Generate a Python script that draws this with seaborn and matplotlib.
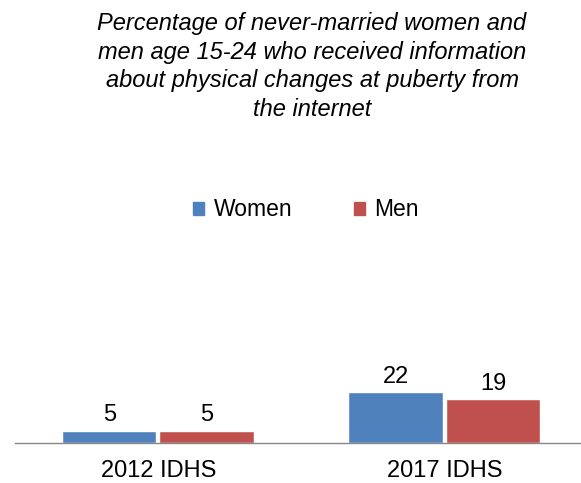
import matplotlib
matplotlib.use("Agg")
import matplotlib.pyplot as plt
import seaborn as sns
import pandas as pd

# data
surveys = ["2012 IDHS", "2017 IDHS"]
women = [5, 22]
men = [5, 19]
groups = ["Women", "Men"]
colors = ["#4F81BD", "#C0504D"]

df = pd.DataFrame({
    "survey": surveys * 2,
    "group": [groups[0]] * len(surveys) + [groups[1]] * len(surveys),
    "value": women + men,
})

sns.set_style("white")
plt.rcParams["font.family"] = ["Liberation Sans", "DejaVu Sans"]
plt.rcParams["text.color"] = "black"
plt.rcParams["xtick.color"] = "black"

W, H = 581, 483
fig = plt.figure(figsize=(W / 100, H / 100), dpi=100)
# axes placed in pixel terms: baseline at y=443, runs off the right edge
left, right, base, top = 15, 588, 443, 217
ax = fig.add_axes([left / W, (H - base) / H, (right - left) / W, (base - top) / H])

sns.barplot(data=df, x="survey", y="value", hue="group", palette=colors,
            width=0.68, gap=0.04, ax=ax, legend=False, saturation=1,
            edgecolor="white", linewidth=0.3)

for cont in ax.containers:
    ax.bar_label(cont, fmt="%d", padding=4, fontsize=17, color="black")

ax.set_ylim(0, 100)
ax.set_xlim(-0.5, 1.5)
ax.set_xlabel("")
ax.set_ylabel("")
ax.set_yticks([])
ax.tick_params(axis="x", length=0, pad=12, labelsize=17, labelcolor="black")
for s in ["top", "left", "right"]:
    ax.spines[s].set_visible(False)
ax.spines["bottom"].set_color("#868686")
ax.spines["bottom"].set_linewidth(1.0)
ax.patch.set_alpha(0)

handles = [plt.Rectangle((0, 0), 1, 1, color=c) for c in colors]
fig.legend(handles, groups, loc="center", bbox_to_anchor=(306 / W, 1 - 210 / H),
           ncol=2, frameon=False, fontsize=16.5, handlelength=0.5, handleheight=0.5,
           handletextpad=0.4, columnspacing=2.7)

fig.text(312 / W, 1 - 12 / H,
         "Percentage of never-married women and\n"
         "men age 15-24 who received information\n"
         "about physical changes at puberty from\n"
         "the internet",
         ha="center", va="top", fontsize=17, style="italic", linespacing=1.31)

fig.savefig("out.png", dpi=100)
